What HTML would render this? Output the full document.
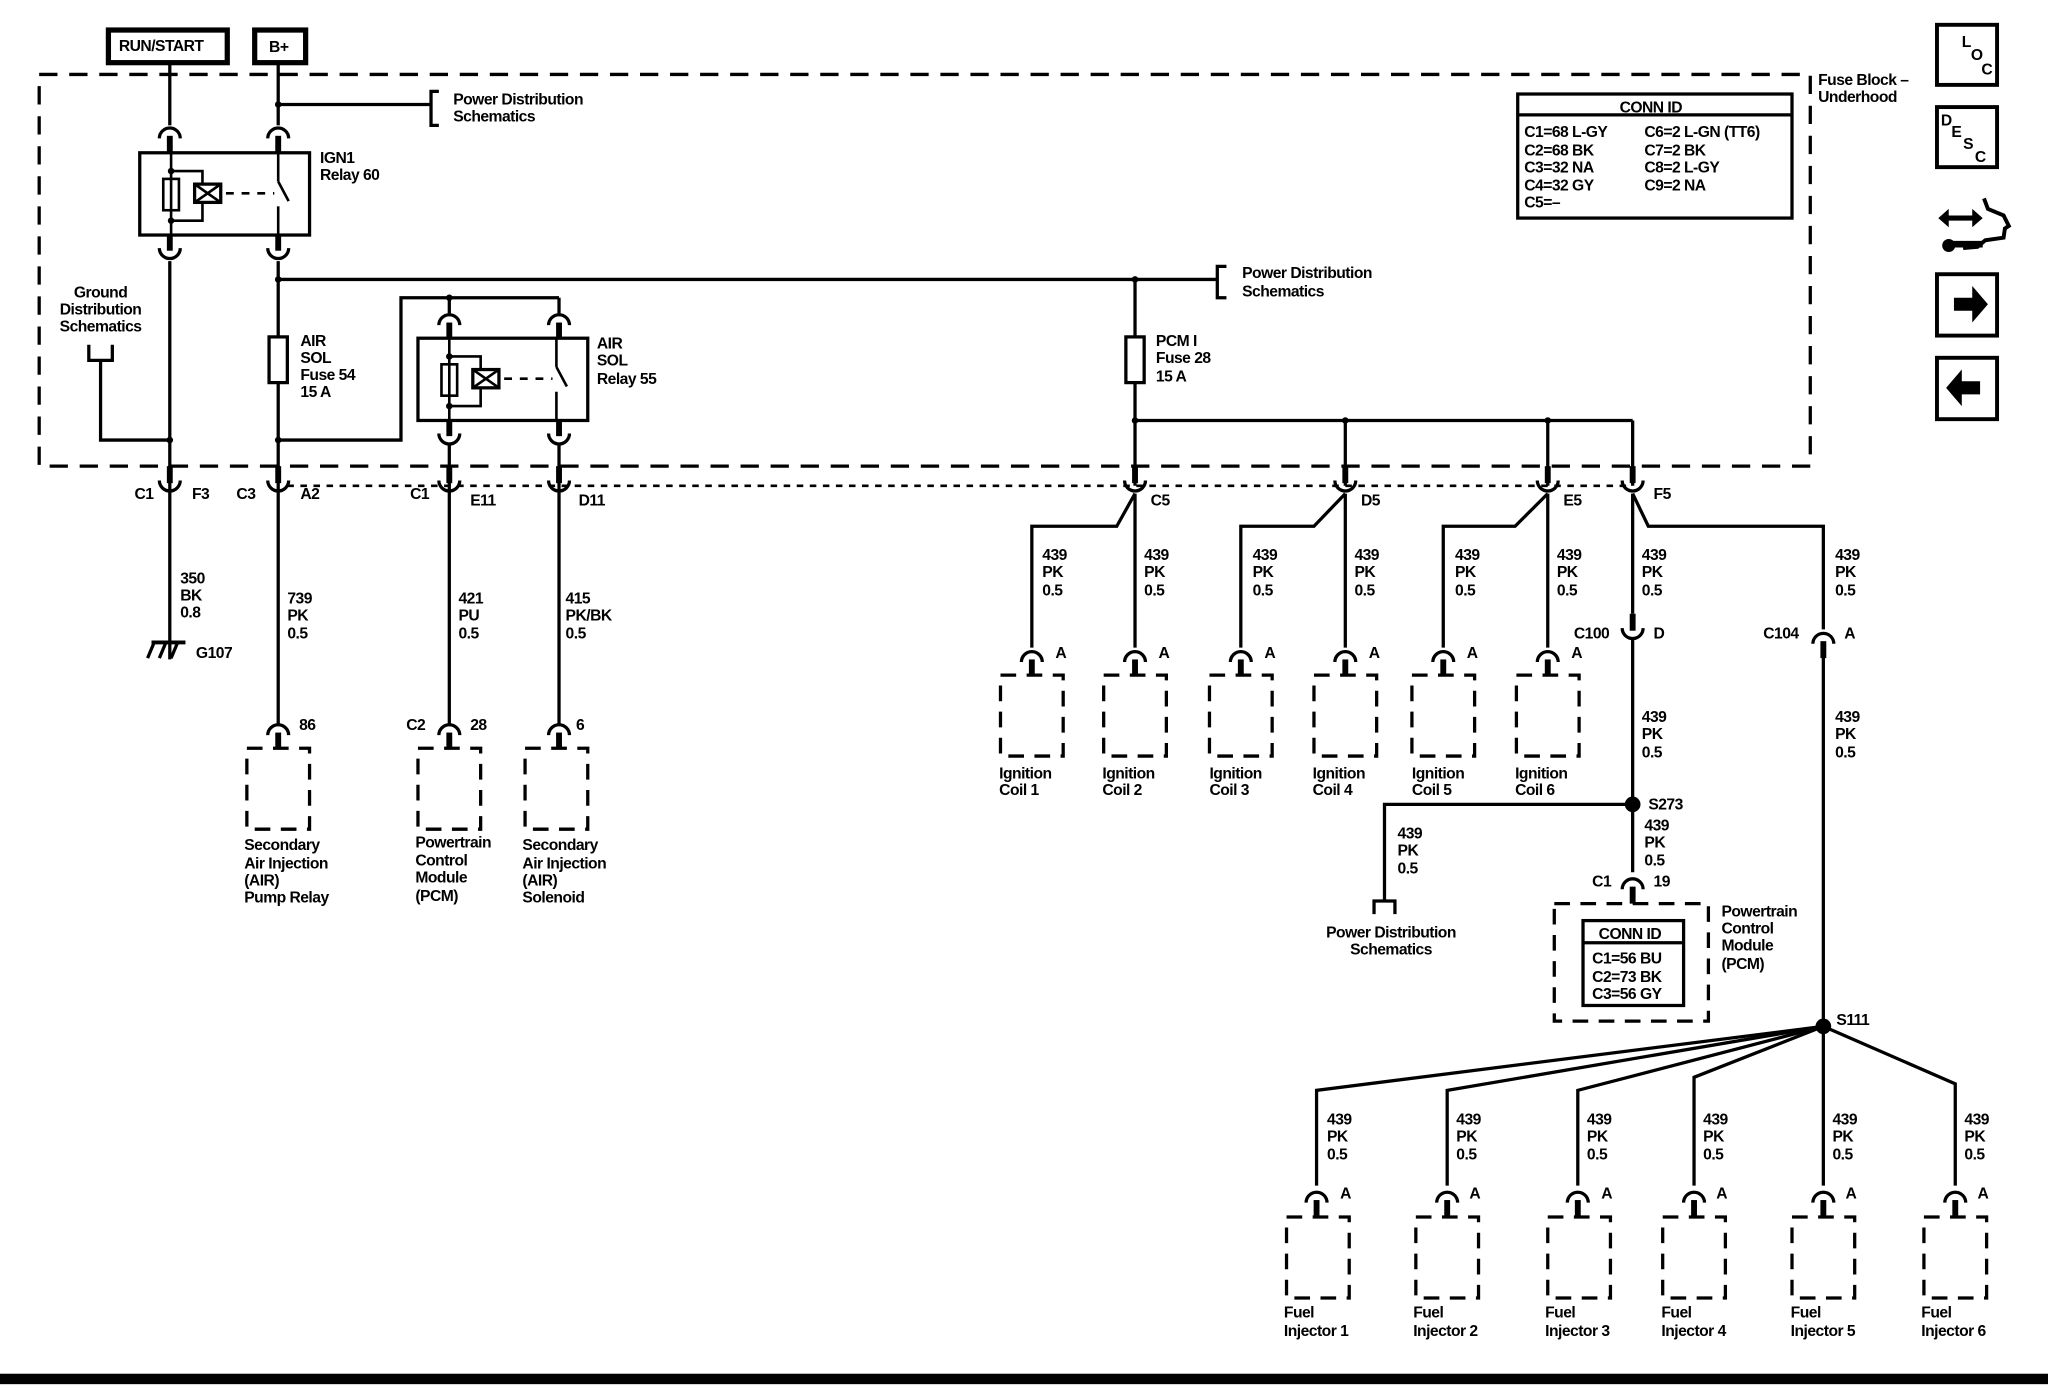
<!DOCTYPE html>
<html><head><meta charset="utf-8"><style>
html,body{margin:0;padding:0;background:#fff;}
svg{display:block}
text{font-family:"Liberation Sans",sans-serif;font-size:12px;fill:#000;font-weight:bold;letter-spacing:-0.4px}
</style></head><body>
<svg width="2048" height="1392" viewBox="0 0 1568 1066" preserveAspectRatio="none" xmlns="http://www.w3.org/2000/svg">
<defs>
<g id="cd"><path d="M-8,6 A8,8 0 0 1 8,6" fill="none" stroke="#000" stroke-width="2.5"/><line x1="0" y1="4" x2="0" y2="17" stroke="#000" stroke-width="4.5"/></g>
<g id="cu"><path d="M-8,-6 A8,8 0 0 0 8,-6" fill="none" stroke="#000" stroke-width="2.5"/><line x1="0" y1="-4" x2="0" y2="-17" stroke="#000" stroke-width="4.5"/></g>
<g id="relay">
<rect x="0" y="0" width="130" height="63" fill="none" stroke="#000" stroke-width="2.5"/>
<polyline points="24,14 48,14 48,52 24,52" fill="none" stroke="#000" stroke-width="2"/>
<rect x="18" y="20" width="12" height="24" fill="#fff" stroke="#000" stroke-width="2"/>
<rect x="42" y="24" width="20" height="14" fill="#fff" stroke="#000" stroke-width="2.5"/>
<path d="M42,24 L62,38 M62,24 L42,38" stroke="#000" stroke-width="2"/>
<line x1="66" y1="31" x2="103" y2="31" stroke="#000" stroke-width="2" stroke-dasharray="6,6"/>
<line x1="106" y1="22" x2="114" y2="37" stroke="#000" stroke-width="2"/>
<line x1="106" y1="0" x2="106" y2="22" stroke="#000" stroke-width="2"/>
<line x1="106" y1="41" x2="106" y2="63" stroke="#000" stroke-width="2"/>
<line x1="24" y1="0" x2="24" y2="63" stroke="#000" stroke-width="2"/>
<circle cx="24" cy="14" r="2.5"/><circle cx="24" cy="52" r="2.5"/>
</g>
<g id="box"><rect x="-24" y="0" width="48" height="62" fill="none" stroke="#000" stroke-width="2.5" stroke-dasharray="12,8"/></g>
</defs>
<g stroke="#000" stroke-width="2.5" fill="none">
<rect x="83" y="23" width="91" height="25" stroke-width="4"/>
<rect x="195" y="23" width="39" height="25" stroke-width="4"/>
<rect x="30" y="57" width="1356" height="300" stroke-dasharray="14,9" stroke-width="2.5"/>
<line x1="130" y1="48" x2="130" y2="96"/><line x1="213" y1="48" x2="213" y2="96"/>
<line x1="213" y1="80" x2="330" y2="80"/><polyline points="336,70 330,70 330,96 336,96"/>
<line x1="130" y1="112" x2="130" y2="117"/><line x1="213" y1="112" x2="213" y2="117"/>
<line x1="130" y1="200" x2="130" y2="505"/><line x1="213" y1="200" x2="213" y2="555"/>
<line x1="213" y1="214" x2="932" y2="214"/><polyline points="939,204 932,204 932,228 939,228"/>
<polyline points="68,264 68,276 86,276 86,264"/><polyline points="77,276 77,337 130,337"/>
<polyline points="213,337 307,337 307,228 428,228"/>
<line x1="344" y1="228" x2="344" y2="240"/><line x1="428" y1="228" x2="428" y2="240"/>
<line x1="344" y1="340" x2="344" y2="555"/><line x1="428" y1="340" x2="428" y2="555"/>
<rect x="206" y="258" width="14" height="35" fill="#fff"/>
<rect x="862" y="258" width="14" height="35" fill="#fff"/>
<line x1="869" y1="214" x2="869" y2="258"/><line x1="869" y1="293" x2="869" y2="372"/>
<line x1="869" y1="322" x2="1250" y2="322"/>
<line x1="1030" y1="322" x2="1030" y2="372"/><line x1="1185" y1="322" x2="1185" y2="372"/><line x1="1250" y1="322" x2="1250" y2="372"/>
<line x1="220" y1="372" x2="1250" y2="372" stroke-dasharray="5,5" stroke-width="2"/>
<polyline points="869,378 855,403 790,403 790,496"/><line x1="869" y1="378" x2="869" y2="496"/>
<polyline points="1030,378 1006,403 950,403 950,496"/><line x1="1030" y1="378" x2="1030" y2="496"/>
<polyline points="1185,378 1160,403 1105,403 1105,496"/><line x1="1185" y1="378" x2="1185" y2="496"/>
<polyline points="1250,378 1262,403 1396,403 1396,482"/><line x1="1250" y1="378" x2="1250" y2="470"/>
<line x1="1250" y1="490" x2="1250" y2="668"/>
<polyline points="1250,616 1060,616 1060,690"/><polyline points="1052,700 1052,690 1068,690 1068,700"/>
<line x1="1396" y1="500" x2="1396" y2="786"/>
<polyline points="1396,786 1008,835 1008,908"/>
<polyline points="1396,786 1108,835 1108,908"/>
<polyline points="1396,786 1208,835 1208,908"/>
<polyline points="1396,786 1297,825 1297,908"/>
<line x1="1396" y1="786" x2="1396" y2="908"/>
<polyline points="1396,786 1497,830 1497,908"/>
<rect x="1190" y="692" width="118" height="90" stroke-dasharray="12,8"/>
<rect x="1212" y="705" width="77" height="65" stroke-width="2.5"/><line x1="1212" y1="722" x2="1289" y2="722"/>
<rect x="1162" y="72" width="210" height="95"/><line x1="1162" y1="88" x2="1372" y2="88"/>
<line x1="116" y1="492" x2="142" y2="492" stroke-width="3"/>
<line x1="118" y1="492" x2="113" y2="504"/><line x1="127" y1="492" x2="122" y2="504"/><line x1="136" y1="492" x2="131" y2="504"/>
<rect x="1483" y="19" width="46" height="46" stroke-width="3"/>
<rect x="1483" y="82" width="46" height="46" stroke-width="3"/>
<rect x="1483" y="210" width="46" height="47" stroke-width="3"/>
<rect x="1483" y="274" width="46" height="47" stroke-width="3"/>
<path d="M1519,152 L1522,160 1534,165 1538,173 1535,175 1534,182 1520,184 1514,189 1503,190" stroke-width="3"/>
<line x1="1488" y1="167" x2="1514" y2="167" stroke-width="4"/>
<line x1="1494" y1="187" x2="1518" y2="187" stroke-width="5"/>
</g>
<g fill="#000">
<path d="M1484,167 l8,-7 v14z M1518,167 l-8,-7 v14z"/>
<circle cx="1492" cy="188" r="5"/>
<path d="M1496,228 h14 v-9 l12,14 l-12,14 v-9 h-14z"/>
<path d="M1516,292 h-14 v-9 l-12,14 l12,14 v-9 h14z"/>
<rect x="0" y="1052" width="1568" height="8"/>
<circle cx="130" cy="337" r="2.5"/><circle cx="213" cy="337" r="2.5"/><circle cx="213" cy="214" r="2.5"/><circle cx="213" cy="80" r="2.5"/>
<circle cx="869" cy="214" r="2.5"/><circle cx="869" cy="322" r="2.5"/><circle cx="1030" cy="322" r="2.5"/><circle cx="1185" cy="322" r="2.5"/><circle cx="344" cy="228" r="2.5"/>
<circle cx="1250" cy="616" r="6"/><circle cx="1396" cy="786" r="6"/>
</g>
<use href="#relay" x="107" y="117"/><use href="#relay" x="320" y="259"/>
<use href="#cd" x="130" y="100"/><use href="#cd" x="213" y="100"/>
<use href="#cu" x="130" y="196"/><use href="#cu" x="213" y="196"/>
<use href="#cd" x="344" y="243"/><use href="#cd" x="428" y="243"/>
<use href="#cu" x="344" y="338"/><use href="#cu" x="428" y="338"/>
<use href="#cu" x="130" y="374"/><use href="#cu" x="213" y="374"/><use href="#cu" x="344" y="374"/><use href="#cu" x="428" y="374"/>
<use href="#cu" x="869" y="374"/><use href="#cu" x="1030" y="374"/><use href="#cu" x="1185" y="374"/><use href="#cu" x="1250" y="374"/>
<use href="#cd" x="213" y="557"/><use href="#cd" x="344" y="557"/><use href="#cd" x="428" y="557"/>
<use href="#cd" x="790" y="501"/><use href="#cd" x="869" y="501"/><use href="#cd" x="950" y="501"/><use href="#cd" x="1030" y="501"/><use href="#cd" x="1105" y="501"/><use href="#cd" x="1185" y="501"/>
<use href="#cu" x="1250" y="487"/><use href="#cd" x="1396" y="487"/>
<use href="#cd" x="1250" y="675"/>
<use href="#cd" x="1008" y="915"/><use href="#cd" x="1108" y="915"/><use href="#cd" x="1208" y="915"/><use href="#cd" x="1297" y="915"/><use href="#cd" x="1396" y="915"/><use href="#cd" x="1497" y="915"/>
<use href="#box" x="213" y="573"/><use href="#box" x="344" y="573"/><use href="#box" x="426" y="573"/>
<use href="#box" x="790" y="517"/><use href="#box" x="869" y="517"/><use href="#box" x="950" y="517"/><use href="#box" x="1030" y="517"/><use href="#box" x="1105" y="517"/><use href="#box" x="1185" y="517"/>
<use href="#box" x="1009" y="932"/><use href="#box" x="1108" y="932"/><use href="#box" x="1209" y="932"/><use href="#box" x="1297" y="932"/><use href="#box" x="1396" y="932"/><use href="#box" x="1497" y="932"/>
<text x="91" y="39">RUN/START</text><text x="206" y="40">B+</text>
<text x="347" y="80">Power Distribution</text><text x="347" y="93">Schematics</text>
<text x="245" y="125">IGN1</text><text x="245" y="138">Relay 60</text>
<text x="951" y="213">Power Distribution</text><text x="951" y="227">Schematics</text>
<text x="77" y="228" text-anchor="middle">Ground</text><text x="77" y="241" text-anchor="middle">Distribution</text><text x="77" y="254" text-anchor="middle">Schematics</text>
<text x="230" y="265">AIR</text><text x="230" y="278">SOL</text><text x="230" y="291">Fuse 54</text><text x="230" y="304">15 A</text>
<text x="457" y="267">AIR</text><text x="457" y="280">SOL</text><text x="457" y="294">Relay 55</text>
<text x="885" y="265">PCM I</text><text x="885" y="278">Fuse 28</text><text x="885" y="292">15 A</text>
<text x="1392" y="65">Fuse Block –</text><text x="1392" y="78">Underhood</text>
<text x="1240" y="86">CONN ID</text>
<text x="1167" y="105">C1=68 L-GY</text><text x="1167" y="119">C2=68 BK</text><text x="1167" y="132">C3=32 NA</text><text x="1167" y="146">C4=32 GY</text><text x="1167" y="159">C5=–</text>
<text x="1259" y="105">C6=2 L-GN (TT6)</text><text x="1259" y="119">C7=2 BK</text><text x="1259" y="132">C8=2 L-GY</text><text x="1259" y="146">C9=2 NA</text>
<text x="1502" y="36" font-size="11">L</text><text x="1509" y="46" font-size="11">O</text><text x="1517" y="57" font-size="11">C</text>
<text x="1486" y="96" font-size="11">D</text><text x="1494" y="105" font-size="11">E</text><text x="1503" y="114" font-size="11">S</text><text x="1512" y="124" font-size="11">C</text>
<text x="103" y="382">C1</text><text x="147" y="382">F3</text>
<text x="181" y="382">C3</text><text x="230" y="382">A2</text>
<text x="314" y="382">C1</text><text x="360" y="387">E11</text><text x="443" y="387">D11</text>
<text x="881" y="387">C5</text><text x="1042" y="387">D5</text><text x="1197" y="387">E5</text><text x="1266" y="382">F5</text>
<text x="138" y="447">350</text><text x="138" y="460">BK</text><text x="138" y="473">0.8</text>
<text x="150" y="504">G107</text>
<text x="220" y="462">739</text><text x="220" y="475">PK</text><text x="220" y="489">0.5</text>
<text x="351" y="462">421</text><text x="351" y="475">PU</text><text x="351" y="489">0.5</text>
<text x="433" y="462">415</text><text x="433" y="475">PK/BK</text><text x="433" y="489">0.5</text>
<text x="229" y="559">86</text><text x="311" y="559">C2</text><text x="360" y="559">28</text><text x="441" y="559">6</text>
<text x="187" y="651">Secondary</text><text x="187" y="665">Air Injection</text><text x="187" y="678">(AIR)</text><text x="187" y="691">Pump Relay</text>
<text x="318" y="649">Powertrain</text><text x="318" y="663">Control</text><text x="318" y="676">Module</text><text x="318" y="690">(PCM)</text>
<text x="400" y="651">Secondary</text><text x="400" y="665">Air Injection</text><text x="400" y="678">(AIR)</text><text x="400" y="691">Solenoid</text>
<g>
<text x="798" y="429">439</text><text x="798" y="442">PK</text><text x="798" y="456">0.5</text>
<text x="876" y="429">439</text><text x="876" y="442">PK</text><text x="876" y="456">0.5</text>
<text x="959" y="429">439</text><text x="959" y="442">PK</text><text x="959" y="456">0.5</text>
<text x="1037" y="429">439</text><text x="1037" y="442">PK</text><text x="1037" y="456">0.5</text>
<text x="1114" y="429">439</text><text x="1114" y="442">PK</text><text x="1114" y="456">0.5</text>
<text x="1192" y="429">439</text><text x="1192" y="442">PK</text><text x="1192" y="456">0.5</text>
<text x="1257" y="429">439</text><text x="1257" y="442">PK</text><text x="1257" y="456">0.5</text>
<text x="1405" y="429">439</text><text x="1405" y="442">PK</text><text x="1405" y="456">0.5</text>
<text x="1257" y="553">439</text><text x="1257" y="566">PK</text><text x="1257" y="580">0.5</text>
<text x="1405" y="553">439</text><text x="1405" y="566">PK</text><text x="1405" y="580">0.5</text>
<text x="1070" y="642">439</text><text x="1070" y="655">PK</text><text x="1070" y="669">0.5</text>
<text x="1259" y="636">439</text><text x="1259" y="649">PK</text><text x="1259" y="663">0.5</text>
</g>
<g>
<text x="808" y="504">A</text><text x="887" y="504">A</text><text x="968" y="504">A</text><text x="1048" y="504">A</text><text x="1123" y="504">A</text><text x="1203" y="504">A</text>
</g>
<text x="1205" y="489">C100</text><text x="1266" y="489">D</text>
<text x="1350" y="489">C104</text><text x="1412" y="489">A</text>
<text x="1262" y="620">S273</text><text x="1406" y="785">S111</text>
<text x="1219" y="679">C1</text><text x="1266" y="679">19</text>
<text x="765" y="596">Ignition</text><text x="765" y="609">Coil 1</text>
<text x="844" y="596">Ignition</text><text x="844" y="609">Coil 2</text>
<text x="926" y="596">Ignition</text><text x="926" y="609">Coil 3</text>
<text x="1005" y="596">Ignition</text><text x="1005" y="609">Coil 4</text>
<text x="1081" y="596">Ignition</text><text x="1081" y="609">Coil 5</text>
<text x="1160" y="596">Ignition</text><text x="1160" y="609">Coil 6</text>
<text x="1065" y="718" text-anchor="middle">Power Distribution</text><text x="1065" y="731" text-anchor="middle">Schematics</text>
<text x="1224" y="719">CONN ID</text>
<text x="1219" y="738">C1=56 BU</text><text x="1219" y="752">C2=73 BK</text><text x="1219" y="765">C3=56 GY</text>
<text x="1318" y="702">Powertrain</text><text x="1318" y="715">Control</text><text x="1318" y="728">Module</text><text x="1318" y="742">(PCM)</text>
<g>
<text x="1016" y="861">439</text><text x="1016" y="874">PK</text><text x="1016" y="888">0.5</text>
<text x="1115" y="861">439</text><text x="1115" y="874">PK</text><text x="1115" y="888">0.5</text>
<text x="1215" y="861">439</text><text x="1215" y="874">PK</text><text x="1215" y="888">0.5</text>
<text x="1304" y="861">439</text><text x="1304" y="874">PK</text><text x="1304" y="888">0.5</text>
<text x="1403" y="861">439</text><text x="1403" y="874">PK</text><text x="1403" y="888">0.5</text>
<text x="1504" y="861">439</text><text x="1504" y="874">PK</text><text x="1504" y="888">0.5</text>
<text x="1026" y="918">A</text><text x="1125" y="918">A</text><text x="1226" y="918">A</text><text x="1314" y="918">A</text><text x="1413" y="918">A</text><text x="1514" y="918">A</text>
</g>
<text x="983" y="1009">Fuel</text><text x="983" y="1023">Injector 1</text>
<text x="1082" y="1009">Fuel</text><text x="1082" y="1023">Injector 2</text>
<text x="1183" y="1009">Fuel</text><text x="1183" y="1023">Injector 3</text>
<text x="1272" y="1009">Fuel</text><text x="1272" y="1023">Injector 4</text>
<text x="1371" y="1009">Fuel</text><text x="1371" y="1023">Injector 5</text>
<text x="1471" y="1009">Fuel</text><text x="1471" y="1023">Injector 6</text>
</svg>
</body></html>
